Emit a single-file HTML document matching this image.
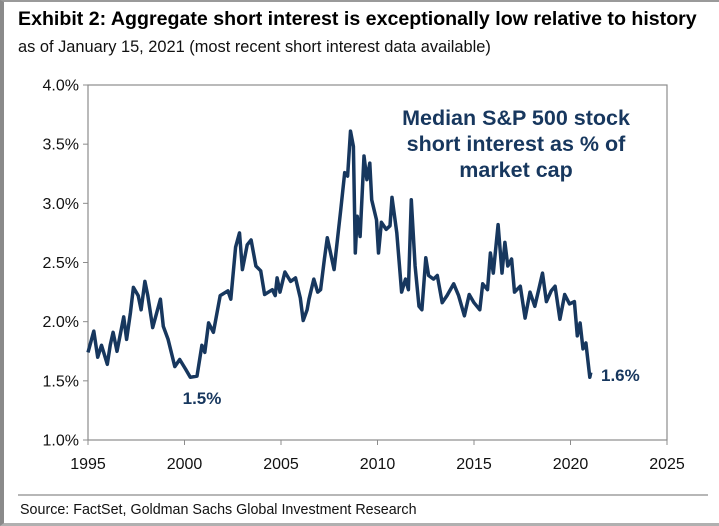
<!DOCTYPE html>
<html><head><meta charset="utf-8">
<style>
html,body{margin:0;padding:0;background:#fff;}
#wrap{position:relative;width:719px;height:526px;overflow:hidden;background:#fff;font-family:"Liberation Sans",Arial,sans-serif;}
#frame{position:absolute;left:0;top:0;width:719px;height:526px;box-sizing:border-box;border-left:4px solid #8a8a8a;border-top:2px solid #9a9a9a;border-bottom:3px solid #b0b0b0;pointer-events:none;}
</style></head>
<body>
<div id="wrap">
<svg id="chart" width="719" height="526">
  <text x="18" y="25" font-size="19.6" font-weight="bold" fill="#000">Exhibit 2: Aggregate short interest is exceptionally low relative to history</text>
  <text x="18" y="52" font-size="16.4" fill="#111">as of January 15, 2021 (most recent short interest data available)</text>
  <rect x="88" y="85" width="579" height="355" fill="none" stroke="#8c8c8c" stroke-width="1.2"/>
  <g id="yaxis"></g>
  <g id="xaxis"></g>
  <path id="line" fill="none" stroke="#17375e" stroke-width="3.5" stroke-linejoin="round"/>
  <g font-size="21.5" font-weight="bold" fill="#17375e" text-anchor="middle">
    <text x="516" y="125">Median S&amp;P 500 stock</text>
    <text x="516" y="151">short interest as % of</text>
    <text x="516" y="177">market cap</text>
  </g>
  <text x="202" y="404" font-size="17" font-weight="bold" fill="#17375e" text-anchor="middle">1.5%</text>
  <text x="601" y="381" font-size="17" font-weight="bold" fill="#17375e">1.6%</text>
  <line x1="18" y1="495" x2="708" y2="495" stroke="#8c8c8c" stroke-width="1.2"/>
  <text x="20" y="514" font-size="14.3" fill="#111">Source: FactSet, Goldman Sachs Global Investment Research</text>
</svg>
<div id="frame"></div>
</div>
<script>
const years = [1995.0,1995.3,1995.5,1995.7,1996.0,1996.15,1996.3,1996.5,1996.85,1997.0,1997.2,1997.35,1997.6,1997.75,1997.95,1998.1,1998.35,1998.75,1998.9,1999.15,1999.5,1999.75,2000.05,2000.3,2000.65,2000.9,2001.05,2001.25,2001.5,2001.85,2002.25,2002.4,2002.65,2002.85,2003.0,2003.25,2003.45,2003.7,2003.95,2004.15,2004.55,2004.7,2004.8,2004.95,2005.2,2005.5,2005.75,2006.0,2006.15,2006.35,2006.45,2006.7,2006.9,2007.05,2007.25,2007.4,2007.75,2008.1,2008.3,2008.45,2008.6,2008.75,2008.85,2008.95,2009.1,2009.3,2009.45,2009.6,2009.7,2009.95,2010.05,2010.2,2010.45,2010.65,2010.75,2011.0,2011.25,2011.45,2011.6,2011.75,2011.95,2012.15,2012.3,2012.5,2012.65,2012.9,2013.1,2013.35,2013.6,2013.95,2014.2,2014.5,2014.75,2015.0,2015.3,2015.45,2015.7,2015.85,2016.0,2016.25,2016.45,2016.6,2016.75,2016.95,2017.1,2017.4,2017.65,2017.9,2018.15,2018.35,2018.55,2018.75,2019.0,2019.2,2019.45,2019.7,2019.95,2020.2,2020.35,2020.5,2020.65,2020.8,2021.0,2021.05];
const values = [1.74,1.92,1.70,1.80,1.64,1.80,1.91,1.75,2.04,1.85,2.08,2.29,2.22,2.10,2.34,2.22,1.95,2.19,1.96,1.85,1.62,1.68,1.60,1.53,1.54,1.80,1.74,1.99,1.91,2.22,2.26,2.19,2.63,2.75,2.44,2.65,2.69,2.47,2.43,2.23,2.27,2.22,2.37,2.25,2.42,2.34,2.37,2.20,2.01,2.10,2.19,2.36,2.25,2.27,2.53,2.71,2.44,2.95,3.26,3.23,3.61,3.48,2.58,2.89,2.72,3.40,3.20,3.34,3.03,2.86,2.58,2.84,2.78,2.81,3.05,2.75,2.25,2.36,2.27,3.03,2.47,2.13,2.10,2.54,2.39,2.36,2.39,2.16,2.22,2.32,2.22,2.05,2.23,2.16,2.10,2.32,2.27,2.58,2.41,2.82,2.41,2.67,2.47,2.53,2.25,2.30,2.03,2.25,2.13,2.27,2.41,2.17,2.26,2.30,2.02,2.23,2.15,2.17,1.88,1.99,1.77,1.82,1.53,1.57];
const yTicks = [1.0,1.5,2.0,2.5,3.0,3.5,4.0];
const yTickLabels = ["1.0%","1.5%","2.0%","2.5%","3.0%","3.5%","4.0%"];
const xTicks = [1995,2000,2005,2010,2015,2020,2025];
const xTickLabels = ["1995","2000","2005","2010","2015","2020","2025"];

const X0=88,X1=667,Y0=440,Y1=85;
function xs(v){return X0+(v-1995)/(2025-1995)*(X1-X0);}
function ys(v){return Y0-(v-1)/(4-1)*(Y0-Y1);}
const NS='http://www.w3.org/2000/svg';
const ya=document.getElementById('yaxis'), xa=document.getElementById('xaxis');
yTicks.forEach((t,i)=>{
  const l=document.createElementNS(NS,'line');
  l.setAttribute('x1',X0-5);l.setAttribute('x2',X0);l.setAttribute('y1',ys(t));l.setAttribute('y2',ys(t));
  l.setAttribute('stroke','#8c8c8c');
  
  
  ya.appendChild(l);
  const tx=document.createElementNS(NS,'text');
  tx.setAttribute('x',X0-9);tx.setAttribute('y',ys(t)+5.5);tx.setAttribute('text-anchor','end');
  tx.setAttribute('font-size','16');tx.setAttribute('fill','#111');
  tx.textContent=yTickLabels[i];
  
  
  ya.appendChild(tx);
});
xTicks.forEach((t,i)=>{
  const l=document.createElementNS(NS,'line');
  l.setAttribute('x1',xs(t));l.setAttribute('x2',xs(t));l.setAttribute('y1',Y0);l.setAttribute('y2',Y0+5);
  l.setAttribute('stroke','#8c8c8c');
  
  
  xa.appendChild(l);
  const tx=document.createElementNS(NS,'text');
  tx.setAttribute('x',xs(t));tx.setAttribute('y',Y0+29);tx.setAttribute('text-anchor','middle');
  tx.setAttribute('font-size','16');tx.setAttribute('fill','#111');
  tx.textContent=xTickLabels[i];
  
  
  xa.appendChild(tx);
});
let d='';
years.forEach((y,i)=>{d+=(i?'L':'M')+xs(y).toFixed(1)+','+ys(values[i]).toFixed(1);});
document.getElementById('line').setAttribute('d',d);
</script>
</body></html>
